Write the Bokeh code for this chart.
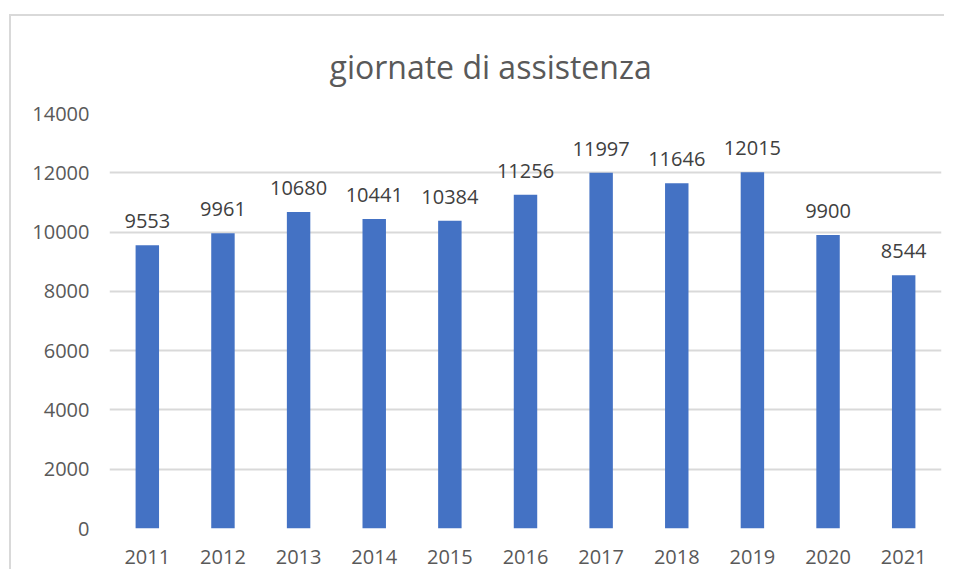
from bokeh.plotting import figure
from bokeh.models import ColumnDataSource, FixedTicker
from bokeh.core.properties import value
from bokeh.embed import file_html
from bokeh.resources import INLINE

years = ["2011", "2012", "2013", "2014", "2015", "2016", "2017", "2018", "2019", "2020", "2021"]
giornate = [9553, 9961, 10680, 10441, 10384, 11256, 11997, 11646, 12015, 9900, 8544]
y_ticks = [0, 2000, 4000, 6000, 8000, 10000, 12000, 14000]
title_text = "giornate di assistenza"

src = ColumnDataSource(dict(x=years, y=giornate, lbl=[str(v) for v in giornate]))

p = figure(
    x_range=years, y_range=(0, 14000),
    width=935, height=555,
    output_backend="svg", toolbar_location=None,
    min_border_left=98, min_border_right=5, min_border_top=96, min_border_bottom=43,
    margin=(14, 0, 0, 9),
    styles={"border-left": "2px solid #d9d9d9", "border-top": "2px solid #d9d9d9"},
)
p.x_range.range_padding = 0
p.outline_line_color = None
p.background_fill_color = "white"
p.border_fill_color = "white"

p.title.text = title_text
p.title.text_font = "Open Sans"
p.title.text_font_size = "32px"
p.title.text_font_style = "normal"
p.title.text_color = "#595959"
p.title.align = "left"
p.title.offset = 220
p.title.standoff = 52

p.vbar(x="x", top="y", width=0.31, source=src, color="#4472C4", line_color=None)
p.text(x="x", y="y", text="lbl", source=src, text_align="center", text_baseline="alphabetic",
       y_offset=-24, text_font=value("Open Sans"), text_font_size="20px", text_color="#404040")

p.xgrid.grid_line_color = None
p.ygrid.grid_line_color = "#d9d9d9"
p.ygrid.grid_line_width = 2
p.yaxis.ticker = FixedTicker(ticks=y_ticks)

for ax in (p.xaxis, p.yaxis):
    ax.axis_line_color = None
    ax.major_tick_line_color = None
    ax.minor_tick_line_color = None
    ax.major_tick_out = 0
    ax.major_tick_in = 0
    ax.major_label_text_font = "Open Sans"
    ax.major_label_text_font_size = "20px"
    ax.major_label_text_color = "#595959"
p.yaxis.major_label_standoff = 20
p.xaxis.major_label_standoff = 21

open("out.html", "w").write(file_html(p, INLINE))
